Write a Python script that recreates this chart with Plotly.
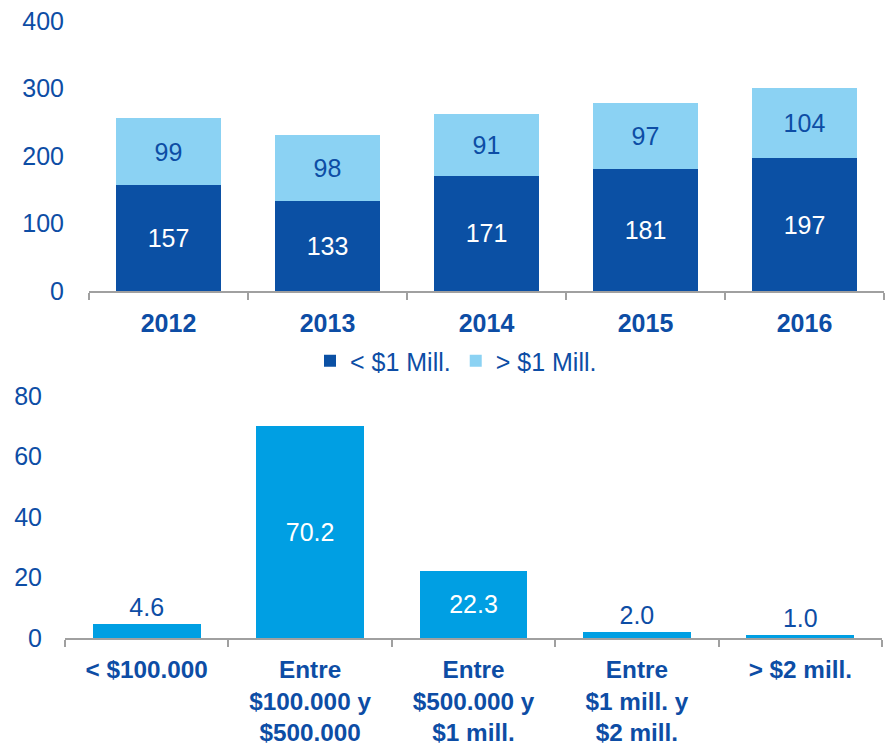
import plotly.graph_objects as go

# ---- data ----
years = ["2012", "2013", "2014", "2015", "2016"]
menos_1m = [157, 133, 171, 181, 197]
mas_1m = [99, 98, 91, 97, 104]

rangos = ["< $100.000",
          "Entre<br>$100.000 y<br>$500.000",
          "Entre<br>$500.000 y<br>$1 mill.",
          "Entre<br>$1 mill. y<br>$2 mill.",
          "> $2 mill."]
porcentajes = [4.6, 70.2, 22.3, 2.0, 1.0]

top_ticks = [0, 100, 200, 300, 400]
bot_ticks = [0, 20, 40, 60, 80]

# ---- style ----
BLUE_TXT = "#0D4DA5"
DARK = "#0B50A4"
LIGHT = "#8BD2F3"
MID = "#009FE3"
AXIS = "#A0A0A0"
FONT = "Liberation Sans, Arial, sans-serif"

W, H = 889, 744

fig = go.Figure()

fig.add_trace(go.Bar(
    x=years, y=menos_1m, name="< $1 Mill.",
    marker=dict(color=DARK, line=dict(width=0)),
    texttemplate="%{y}", textposition="inside", insidetextanchor="middle",
    textfont=dict(color="white", size=25, family=FONT),
    xaxis="x", yaxis="y",
))
fig.add_trace(go.Bar(
    x=years, y=mas_1m, name="> $1 Mill.",
    marker=dict(color=LIGHT, line=dict(width=0)),
    texttemplate="%{y}", textposition="inside", insidetextanchor="middle",
    textfont=dict(color=BLUE_TXT, size=25, family=FONT),
    xaxis="x", yaxis="y",
))

pos = ["inside" if v > 10 else "outside" for v in porcentajes]
fig.add_trace(go.Bar(
    x=rangos, y=porcentajes, showlegend=False,
    marker=dict(color=MID, line=dict(width=0)),
    texttemplate="%{y:.1f}", textposition=pos, insidetextanchor="middle",
    insidetextfont=dict(color="white", size=25, family=FONT),
    outsidetextfont=dict(color=BLUE_TXT, size=25, family=FONT),
    cliponaxis=False,
    xaxis="x2", yaxis="y2",
))

fig.update_layout(
    width=W, height=H,
    margin=dict(l=0, r=0, t=0, b=0, autoexpand=False),
    paper_bgcolor="white", plot_bgcolor="white",
    barmode="stack",
    font=dict(family=FONT, color=BLUE_TXT, size=25),
    xaxis=dict(
        domain=[89 / W, 884 / W],
        showline=True, linecolor=AXIS, linewidth=2,
        ticks="outside", tickson="boundaries", ticklen=7, tickwidth=2, tickcolor=AXIS,
        tickfont=dict(family=FONT, size=25, color=BLUE_TXT, weight="bold"),
        ticklabelstandoff=9, automargin=False,
        showgrid=False, anchor="y",
    ),
    yaxis=dict(
        domain=[1 - 291 / H, 1 - 21 / H],
        range=[0, 400], tickvals=top_ticks,
        showline=False, showgrid=False, zeroline=False,
        ticks="", ticklabelstandoff=24, automargin=False,
        tickfont=dict(family=FONT, size=25, color=BLUE_TXT),
        anchor="x",
    ),
    xaxis2=dict(
        domain=[65 / W, 882 / W],
        showline=True, linecolor=AXIS, linewidth=2,
        ticks="outside", tickson="boundaries", ticklen=7, tickwidth=2, tickcolor=AXIS,
        tickfont=dict(family=FONT, size=24.3, color=BLUE_TXT, weight="bold"),
        ticklabelstandoff=9, tickangle=0, automargin=False,
        showgrid=False, anchor="y2",
    ),
    yaxis2=dict(
        domain=[1 - 638 / H, 1 - 396 / H],
        range=[0, 80], tickvals=bot_ticks,
        showline=False, showgrid=False, zeroline=False,
        ticks="", ticklabelstandoff=22, automargin=False,
        tickfont=dict(family=FONT, size=25, color=BLUE_TXT),
        anchor="x2",
    ),
    bargap=0.34,
    legend=dict(
        orientation="h", x=456 / W, xanchor="center",
        y=1 - 361 / H, yanchor="middle",
        font=dict(family=FONT, size=25, color=BLUE_TXT),
        bgcolor="rgba(0,0,0,0)", traceorder="normal",
        itemwidth=30,
    ),
)

fig.write_html(
    "out.html",
    config={"displayModeBar": False},
    post_script="document.body.style.margin='0';document.body.style.padding='0';document.body.style.overflow='hidden';",
)
